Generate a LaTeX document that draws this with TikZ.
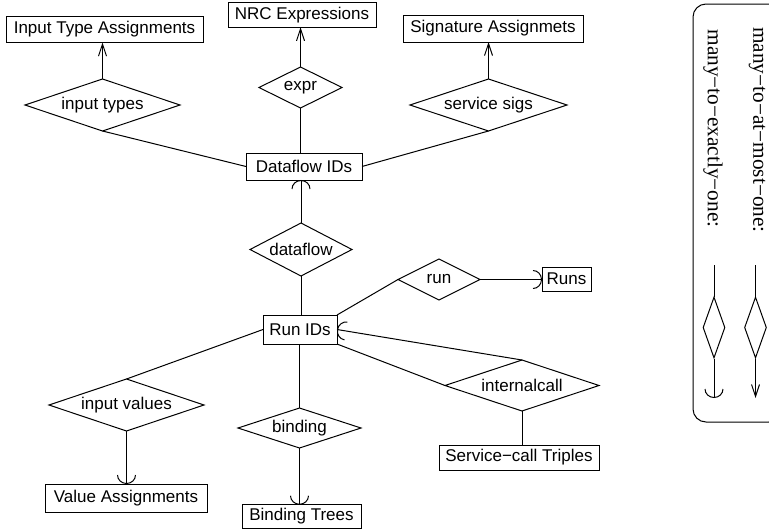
\documentclass[tikz,border=0pt]{standalone}
\usepackage{fontspec}
\setmainfont{Liberation Sans}
\newfontfamily\legendfont{Liberation Serif}
\usetikzlibrary{shapes.geometric,arrows.meta}
\begin{document}
\begin{tikzpicture}[x=1pt,y=-1pt,line width=1pt,
  ent/.style={draw,rectangle,inner sep=0pt,outer sep=0pt,font=\fontsize{17}{20}\selectfont},
  rel/.style={draw,diamond,inner sep=0pt,outer sep=0pt,font=\fontsize{17}{20}\selectfont},
  toV/.style={-{Straight Barb[length=12pt,width=8pt]}},
  toArc/.style={-{Arc Barb[length=9pt,width=19pt]}},
  legtext/.style={rotate=-90,inner sep=0pt,font=\fontsize{21.3}{24}\legendfont}]
\useasboundingbox (0,0) rectangle (769,531);
% entities
\node[ent,minimum width=197,minimum height=26.5] (ita) at (104.5,29.3) {Input Type Assignments};
\node[ent,minimum width=148,minimum height=24.5] (nrc) at (302,15) {NRC Expressions};
\node[ent,minimum width=180,minimum height=27] (sig) at (493,28.5) {Signature Assignmets};
\node[ent,minimum width=116,minimum height=27] (df) at (304,166.5) {Dataflow IDs};
\node[ent,minimum width=74,minimum height=29] (runids) at (300,329.5) {Run IDs};
\node[ent,minimum width=49,minimum height=24] (runs) at (566.5,279) {Runs};
\node[ent,minimum width=160,minimum height=25] (sct) at (519,457.5) {Service−call Triples};
\node[ent,minimum width=162,minimum height=28] (va) at (126,498) {Value Assignments};
\node[ent,minimum width=119,minimum height=23.5] (bt) at (301.5,516.5) {Binding Trees};
% relationships
\node[rel,minimum width=155,minimum height=52,aspect=2.98] (inputtypes) at (102.5,105) {input types};
\node[rel,minimum width=83,minimum height=41,aspect=2.02] (expr) at (300.5,87.5) {expr};
\node[rel,minimum width=157,minimum height=52,aspect=3.02] (servicesigs) at (488.5,105) {service sigs};
\node[rel,minimum width=102,minimum height=53,aspect=1.92] (dataflow) at (301,249.5) {dataflow};
\node[rel,minimum width=82,minimum height=41,aspect=2] (run) at (439,279.5) {run};
\node[rel,minimum width=154,minimum height=51,aspect=3.02] (internalcall) at (522,385.5) {internalcall};
\node[rel,minimum width=155,minimum height=52,aspect=2.98] (inputvalues) at (126.5,405) {input values};
\node[rel,minimum width=123,minimum height=40,aspect=3.07] (binding) at (299.5,428) {binding};
% connectors
\draw[toV] (inputtypes.north) -- (inputtypes.north |- ita.south);
\draw[toV] (expr.north) -- (expr.north |- nrc.south);
\draw[toV] (servicesigs.north) -- (servicesigs.north |- sig.south);
\draw (inputtypes.south) -- (df.west);
\draw (servicesigs.south) -- (df.east);
\draw (expr.south) -- (expr.south |- df.north);
\draw[toArc] (dataflow.north) -- (dataflow.north |- df.south);
\draw (dataflow.south) -- (dataflow.south |- runids.north);
\draw (run.west) -- (runids.north east);
\draw[toArc] (run.east) -- (run.east -| runs.west);
\draw[toArc] (internalcall.north) -- (runids.east);
\draw (internalcall.west) -- (runids.south east);
\draw (internalcall.south) -- (internalcall.south |- sct.north);
\draw (inputvalues.north) -- (runids.west);
\draw[toArc] (inputvalues.south) -- (inputvalues.south |- va.north);
\draw (binding.north |- runids.south) -- (binding.north);
\draw[toArc] (binding.south) -- (binding.south |- bt.north);
% legend
\node[draw,rounded corners=13pt,minimum width=89,minimum height=418,inner sep=0pt] (legend) at (737.5,213) {};
\node[legtext] (lt1) at (757,130) {many−to−at−most−one:};
\node[legtext] (lt2) at (713,128.5) {many−to−exactly−one:};
\coordinate (l1top) at (755.5,265);
\coordinate (l1end) at (755.5,398);
\coordinate (l2top) at (714,265);
\coordinate (l2end) at (714,398);
\node[draw,diamond,inner sep=0pt,minimum width=22,minimum height=61] (ld1) at (755.5,327.5) {};
\node[draw,diamond,inner sep=0pt,minimum width=22,minimum height=61] (ld2) at (714,327.5) {};
\draw (l1top) -- (ld1.north);
\draw[toV] (ld1.south) -- (l1end);
\draw (l2top) -- (ld2.north);
\draw[toArc] (ld2.south) -- (l2end);
\end{tikzpicture}
\end{document}
